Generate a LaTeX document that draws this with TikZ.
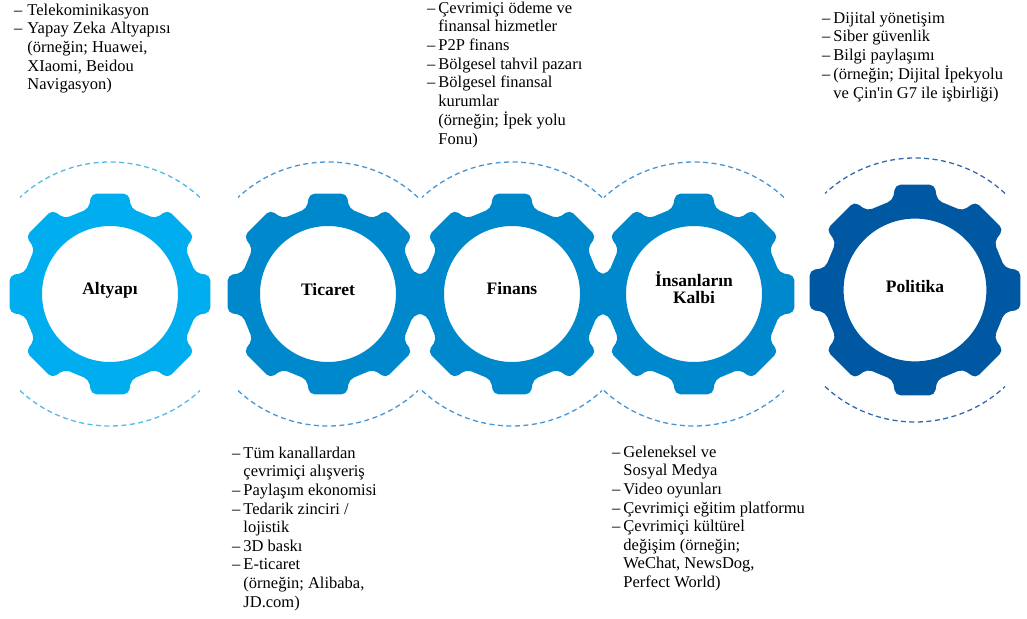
\documentclass[tikz,border=0pt]{standalone}
\usepackage{fontspec}
\newfontfamily\timesfont{Liberation Serif}
\usetikzlibrary{positioning}

\definecolor{gearLight}{RGB}{0,174,239}
\definecolor{gearMid}{RGB}{0,136,204}
\definecolor{gearDark}{RGB}{0,88,163}
\definecolor{ringLight}{RGB}{85,184,232}
\definecolor{ringMid}{RGB}{72,150,212}
\definecolor{ringDark}{RGB}{52,104,172}

\begin{document}
\begin{tikzpicture}[x=1pt, y=1pt,
    cog/.pic={
      % eight rounded teeth on a ring, hole left open
      \fill[even odd rule, rounded corners=5pt] (-22.5:87)
        \foreach \a in {0,45,...,315}{ -- (\a-14:88) -- (\a-10.5:102) -- (\a+10.5:102) -- (\a+14:88) }
        -- cycle (0,0) circle[radius=68pt];
    },
    gearlabel/.style={align=center, inner sep=0pt, font=\timesfont\fontsize{17.5}{17}\selectfont\bfseries},
    notes/.style={anchor=north west, inner sep=0pt, font=\timesfont\fontsize{16.5}{18.6}\selectfont},
    ring/.style={dash pattern=on 5pt off 3.5pt, line width=1.3pt}
  ]
  \useasboundingbox (0,0) rectangle (1027,618);

  % gear centres
  \coordinate (altyapi) at (110,324);
  \coordinate (ticaret) at (328,324);
  \coordinate (finans)  at (512,324);
  \coordinate (kalp)    at (694,324);
  \coordinate (politika) at (915,328);

  % gears
  \pic[fill=gearLight] at (altyapi) {cog};
  \pic[fill=gearMid] at (ticaret) {cog};
  \pic[fill=gearMid] at (finans) {cog};
  \pic[fill=gearMid] at (kalp) {cog};
  \pic[fill=gearDark, scale=1.05] at (politika) {cog};

  % dashed arcs above and below each gear
  \foreach \c/\col in {altyapi/ringLight, ticaret/ringMid, finans/ringMid, kalp/ringMid, politika/ringDark}{
    \draw[ring, \col] (\c) ++(47:132) arc[start angle=47, end angle=133, radius=132pt];
    \draw[ring, \col] (\c) ++(227:132) arc[start angle=227, end angle=313, radius=132pt];
  }

  % gear names
  \node[gearlabel, yshift=4pt] (lblAltyapi) at (altyapi) {Altyapı};
  \node[gearlabel, yshift=4pt] (lblTicaret) at (ticaret) {Ticaret};
  \node[gearlabel, yshift=5pt] (lblFinans) at (finans) {Finans};
  \node[gearlabel, yshift=6pt] (lblKalp) at (kalp) {İnsanların\\Kalbi};
  \node[gearlabel, yshift=3pt] (lblPolitika) at (politika) {Politika};

  % item lists
  \node[notes] (notAltyapi) at (14,616) {\begin{tabular}{@{}l@{\hspace{5pt}}l@{}}
    – & Telekominikasyon\\
    – & Yapay Zeka Altyapısı\\
      & (örneğin; Huawei,\\
      & XIaomi, Beidou\\
      & Navigasyon)
  \end{tabular}};

  \node[notes] (notFinans) at (427,618) {\begin{tabular}{@{}l@{\hspace{3pt}}l@{}}
    – & Çevrimiçi ödeme ve\\
      & finansal hizmetler\\
    – & P2P finans\\
    – & Bölgesel tahvil pazarı\\
    – & Bölgesel finansal\\
      & kurumlar\\
      & (örneğin; İpek yolu\\
      & Fonu)
  \end{tabular}};

  \node[notes] (notPolitika) at (822,608) {\begin{tabular}{@{}l@{\hspace{3pt}}l@{}}
    – & Dijital yönetişim\\
    – & Siber güvenlik\\
    – & Bilgi paylaşımı\\
    – & (örneğin; Dijital İpekyolu\\
      & ve Çin'in G7 ile işbirliği)
  \end{tabular}};

  \node[notes] (notTicaret) at (232,173) {\begin{tabular}{@{}l@{\hspace{3pt}}l@{}}
    – & Tüm kanallardan\\
      & çevrimiçi alışveriş\\
    – & Paylaşım ekonomisi\\
    – & Tedarik zinciri /\\
      & lojistik\\
    – & 3D baskı\\
    – & E-ticaret\\
      & (örneğin; Alibaba,\\
      & JD.com)
  \end{tabular}};

  \node[notes] (notKalp) at (612,174) {\begin{tabular}{@{}l@{\hspace{3pt}}l@{}}
    – & Geleneksel ve\\
      & Sosyal Medya\\
    – & Video oyunları\\
    – & Çevrimiçi eğitim platformu\\
    – & Çevrimiçi kültürel\\
      & değişim (örneğin;\\
      & WeChat, NewsDog,\\
      & Perfect World)
  \end{tabular}};
\end{tikzpicture}
\end{document}
